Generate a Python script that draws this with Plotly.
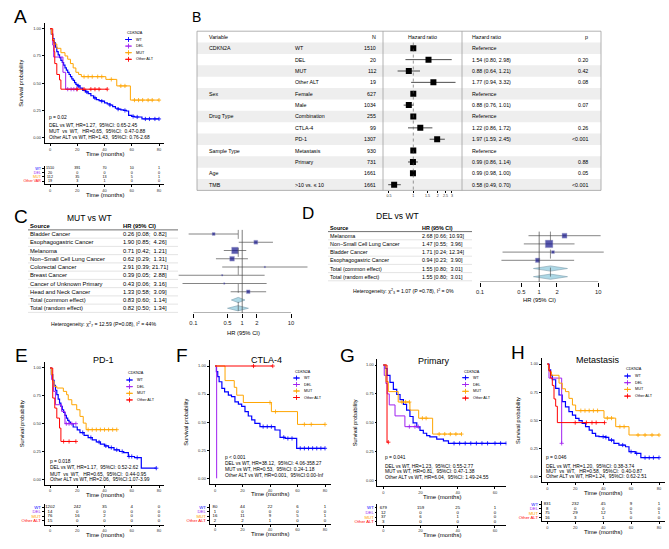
import plotly.graph_objects as go

W, H = 669, 549
FONT = "Liberation Sans, Arial, sans-serif"

GROUPS = ["WT", "DEL", "MUT", "Other ALT"]
GROUP_COLORS = ["#0000FF", "#A020F0", "#FFA500", "#FF0000"]

# ======================================================
# Kaplan-Meier data (time in months, survival probability)
# ======================================================
# A - all patients
A_WT_T = [0, 1, 2, 3, 4, 5, 6, 7, 8, 9, 10, 11, 12, 13, 14, 15, 16, 17, 18, 19, 20,
          22, 24, 26, 28, 30, 32, 34, 36, 38, 40, 42, 44, 46, 48, 50, 52, 54, 56,
          57.7, 60, 62, 67.5, 80]
A_WT_S = [1.0, 0.95, 0.91, 0.87, 0.83, 0.79, 0.76, 0.735, 0.71, 0.69, 0.665, 0.64, 0.62,
          0.60, 0.58, 0.56, 0.54, 0.525, 0.505, 0.49, 0.475, 0.455, 0.435, 0.42, 0.405,
          0.385, 0.365, 0.35, 0.34, 0.335, 0.32, 0.31, 0.30, 0.285, 0.27, 0.262, 0.255,
          0.25, 0.245, 0.205, 0.195, 0.19, 0.172, 0.172]
A_WT_CENS = [21, 27, 33, 38, 44, 50, 55, 61, 64, 70, 73, 77, 80]
A_DEL_T = [0, 1, 2, 2.7, 9.5, 11.5, 19.5]
A_DEL_S = [1.0, 0.95, 0.85, 0.74, 0.60, 0.445, 0.445]
A_DEL_CENS = [13, 15.5, 17.5, 19.5]
A_MUT_T = [0, 1, 2, 3, 5, 8, 11, 13, 15, 17, 19, 21, 23, 41, 49, 59, 80]
A_MUT_S = [1.0, 0.95, 0.90, 0.86, 0.82, 0.78, 0.75, 0.72, 0.68, 0.64, 0.60, 0.58, 0.56,
           0.535, 0.475, 0.345, 0.345]
A_MUT_CENS = [25, 28, 31, 35, 38, 45, 52, 55, 62, 65, 68, 72, 75, 80]
A_OTH_T = [0, 2, 3, 3.5, 5, 7, 8, 42]
A_OTH_S = [1.0, 0.89, 0.79, 0.68, 0.58, 0.53, 0.445, 0.445]
A_OTH_CENS = [20, 25, 30, 33, 36, 42]
A_RISK = [[1510, 391, 70, 10, 1], [20, 0, 0, 0, 0], [112, 35, 13, 5, 1], [19, 3, 1, 0, 0]]
A_STATS = ["p = 0.02",
           "DEL vs WT, HR=1.27,  95%CI: 0.65-2.45",
           "MUT  vs  WT,   HR=0.65,  95%CI:  0.47-0.88",
           "Other ALT vs WT, HR=1.43,  95%CI: 0.76-2.68"]

# E - PD-1
E_WT_T = [0, 1, 2, 3, 4, 5, 6, 7, 8, 9, 10, 11, 12, 13, 14, 15, 17, 20, 22, 25, 28, 31,
          34, 37, 40, 43, 47, 51, 54, 57.5, 62, 67, 78]
E_WT_S = [1.0, 0.94, 0.89, 0.845, 0.80, 0.76, 0.72, 0.685, 0.655, 0.625, 0.60, 0.575,
          0.55, 0.53, 0.515, 0.50, 0.47, 0.445, 0.42, 0.395, 0.375, 0.355, 0.335, 0.316,
          0.30, 0.285, 0.265, 0.25, 0.24, 0.205, 0.195, 0.10, 0.10]
E_WT_CENS = [24, 30, 36, 41, 45, 49, 53, 58, 60, 64, 78]
E_DEL_T = [0, 1.2, 2.5, 4, 8.5, 11, 19]
E_DEL_S = [1.0, 0.895, 0.79, 0.67, 0.61, 0.50, 0.50]
E_DEL_CENS = [12, 14, 16, 19]
E_MUT_T = [0, 1, 2, 3, 5, 9.8, 12.2, 13.4, 16, 19.6, 22, 24.4, 26.5, 49]
E_MUT_S = [1.0, 0.94, 0.88, 0.835, 0.82, 0.79, 0.76, 0.715, 0.67, 0.625, 0.565, 0.505,
           0.446, 0.446]
E_MUT_CENS = [28, 31, 34, 37, 40, 43, 46, 49]
E_OTH_T = [0, 2, 3.5, 5, 7, 8, 19]
E_OTH_S = [1.0, 0.73, 0.64, 0.55, 0.46, 0.34, 0.34]
E_OTH_CENS = [10, 14, 19]
E_RISK = [[1202, 242, 35, 4, 0], [14, 0, 0, 0, 0], [76, 16, 2, 0, 0], [15, 0, 0, 0, 0]]
E_STATS = ["p = 0.018",
           "DEL vs WT, HR=1.17,  95%CI: 0.52-2.62",
           "MUT  vs  WT,   HR=0.65,  95%CI:  0.44-0.95",
           "Other ALT vs WT, HR=2.06,  95%CI:1.07-3.99"]

# F - CTLA-4
F_WT_T = [0, 1, 2, 3, 5, 7, 9.7, 12, 14.5, 17, 19.4, 21.8, 24.2, 26.7, 29, 32.7, 43.6,
          47.3, 51, 59.4, 80]
F_WT_S = [1.0, 0.95, 0.905, 0.86, 0.80, 0.77, 0.74, 0.727, 0.68, 0.66, 0.64, 0.594,
          0.555, 0.52, 0.49, 0.46, 0.43, 0.365, 0.355, 0.267, 0.267]
F_WT_CENS = [35, 38, 41, 50, 53, 56, 62, 65, 68, 71, 74, 77, 80]
F_DEL_T = [0, 1.2]
F_DEL_S = [1.0, 0.0]
F_DEL_CENS = []
F_MUT_T = [0, 7.3, 14, 15.8, 20.6, 41, 60, 80]
F_MUT_S = [1.0, 0.87, 0.81, 0.74, 0.675, 0.594, 0.48, 0.48]
F_MUT_CENS = [40, 44, 65, 70, 80]
F_OTH_T = [0, 42]
F_OTH_S = [1.0, 1.0]
F_OTH_CENS = [28, 42]
F_RISK = [[80, 44, 22, 6, 1], [1, 0, 0, 0, 0], [16, 11, 9, 5, 1], [2, 2, 1, 0, 0]]
F_STATS = ["p &lt; 0.001",
           "DEL vs WT, HR=38.12,  95%CI: 4.06-358.27",
           "MUT vs WT, HR=0.53,  95%CI: 0.24-1.18",
           "Other ALT vs WT, HR=0.001,  95%CI:0.00-Inf"]

# G - Primary
G_WT_T = [0, 1, 2, 3.6, 5.4, 7.2, 9, 10.8, 12.5, 14.3, 16, 18, 19.7, 21.5, 23.3, 25,
          28.7, 32.3, 35, 66]
G_WT_S = [1.0, 0.97, 0.91, 0.85, 0.79, 0.745, 0.70, 0.66, 0.61, 0.555, 0.50, 0.465,
          0.435, 0.41, 0.39, 0.378, 0.36, 0.345, 0.323, 0.323]
G_WT_CENS = [38, 41, 44, 47, 50, 53, 56, 60, 63, 66]
G_DEL_T = [0, 0.5, 1.4, 2.1, 3.2, 6.3, 11.6, 18.8]
G_DEL_S = [1.0, 0.91, 0.84, 0.75, 0.655, 0.56, 0.467, 0.467]
G_DEL_CENS = [14, 17, 18.8]
G_MUT_T = [0, 1.4, 2.7, 8, 14.3, 19, 26.5, 42]
G_MUT_S = [1.0, 0.856, 0.77, 0.68, 0.61, 0.54, 0.403, 0.403]
G_MUT_CENS = [10, 12, 14, 21, 23, 30, 33, 36, 39, 42]
G_OTH_T = [0, 2, 2.7]
G_OTH_S = [1.0, 0.333, 0.333]
G_OTH_CENS = [2.7]
G_RISK = [[679, 159, 25, 1], [12, 0, 0, 0], [37, 6, 1, 0], [3, 0, 0, 0]]
G_STATS = ["p = 0.041",
           "DEL vs WT, HR=1.23,  95%CI: 0.55-2.77",
           "MUT vs WT, HR=0.81,  95%CI: 0.47-1.38",
           "Other ALT vs WT, HR=6.04,  95%CI: 1.49-24.55"]

# H - Metastasis
H_WT_T = [0, 1.2, 2.4, 3.6, 6, 8.4, 10.7, 13, 15.5, 18, 20.3, 22.7, 25, 27.4, 30, 32.2,
          34.6, 37, 41.8, 44, 47.7, 51.3, 56, 58.5, 63, 67, 80]
H_WT_S = [1.0, 0.947, 0.90, 0.86, 0.784, 0.725, 0.666, 0.62, 0.577, 0.547, 0.518, 0.497,
          0.473, 0.444, 0.414, 0.385, 0.36, 0.355, 0.349, 0.325, 0.296, 0.281, 0.266,
          0.222, 0.207, 0.169, 0.169]
H_WT_CENS = [40, 42, 46, 54, 60, 64, 70, 73, 76, 80]
H_DEL_T = [0, 1.2, 10.3]
H_DEL_S = [1.0, 0.875, 0.296]
H_DEL_CENS = [10.3]
H_MUT_T = [0, 0.8, 1.5, 3, 8.4, 10.7, 13, 15.5, 18, 20.3, 40.6, 49, 58.5, 80]
H_MUT_S = [1.0, 0.96, 0.93, 0.90, 0.83, 0.78, 0.755, 0.695, 0.636, 0.586, 0.52, 0.444,
           0.37, 0.37]
H_MUT_CENS = [24, 27, 30, 33, 36, 43, 46, 52, 55, 65, 70, 75, 80]
H_OTH_T = [0, 1.2, 2.4, 3.6, 4.8, 6, 7.2, 41]
H_OTH_S = [1.0, 0.94, 0.875, 0.81, 0.69, 0.625, 0.48, 0.48]
H_OTH_CENS = [20, 28, 32, 35, 41]
H_RISK = [[831, 232, 45, 9, 1], [8, 0, 0, 0, 0], [75, 29, 12, 5, 1], [16, 3, 1, 0, 0]]
H_STATS = ["p = 0.046",
           "DEL vs WT, HR=1.20,  95%CI: 0.38-3.74",
           "MUT  vs  WT,   HR=0.58,  95%CI:  0.40-0.87",
           "Other ALT vs WT, HR=1.24,  95%CI: 0.62-2.51"]

RISK_T80 = [0, 20, 40, 60, 80]
RISK_T60 = [0, 20, 40, 60]

# ======================================================
# B - multivariable Cox model
# ======================================================
B_VAR = ["CDKN2A", "", "", "", "Sex", "", "Drug Type", "", "", "Sample Type", "", "Age", "TMB"]
B_LEVEL = ["WT", "DEL", "MUT", "Other ALT", "Female", "Male", "Combination", "CTLA-4",
           "PD-1", "Metastasis", "Primary", "", ">10 vs. \u2264 10"]
B_N = [1510, 20, 112, 19, 627, 1034, 255, 99, 1307, 930, 731, 1661, 1661]
B_HR = [1, 1.54, 0.88, 1.77, 1, 0.88, 1, 1.22, 1.97, 1, 0.99, 0.99, 0.58]
B_LO = [None, 0.80, 0.64, 0.94, None, 0.76, None, 0.86, 1.59, None, 0.86, 0.98, 0.49]
B_HI = [None, 2.98, 1.21, 3.32, None, 1.01, None, 1.72, 2.45, None, 1.14, 1.00, 0.70]
B_P = ["", "0.20", "0.42", "0.08", "", "0.07", "", "0.26", "&lt;0.001", "", "0.88", "0.05", "&lt;0.001"]
B_TICKS = [0.5, 1, 1.5, 2, 2.5, 3]

# ======================================================
# C / D - meta-analysis by cancer type
# ======================================================
C_STUDY = ["Bladder Cancer", "Esophagogastric Cancer", "Melanoma",
           "Non\u2212Small Cell Lung Cancer", "Colorectal Cancer", "Breast Cancer",
           "Cancer of Unknown Primary", "Head and Neck Cancer"]
C_HR = [0.26, 1.90, 0.71, 0.62, 2.91, 0.39, 0.43, 1.33]
C_LO = [0.08, 0.85, 0.42, 0.29, 0.39, 0.05, 0.06, 0.58]
C_HI = [0.82, 4.26, 1.21, 1.31, 21.71, 2.88, 3.16, 3.09]
C_WEIGHT = [8, 14, 40, 20, 2, 2, 2, 12]
C_POOL = ["Total (common effect)", "Total (random effect)"]
C_POOL_HR = [0.83, 0.82]
C_POOL_LO = [0.60, 0.50]
C_POOL_HI = [1.14, 1.34]
C_HET = "Heterogeneity: \u03c7<sup>2</sup><sub>7</sub> = 12.59 (P=0.08), I<sup>2</sup> = 44%"

D_STUDY = ["Melanoma", "Non\u2212Small Cell Lung Cancer", "Bladder Cancer", "Esophagogastric Cancer"]
D_HR = [2.68, 1.47, 1.71, 0.94]
D_LO = [0.66, 0.55, 0.24, 0.23]
D_HI = [10.93, 3.96, 12.34, 3.90]
D_WEIGHT = [22, 52, 8, 18]
D_POOL = ["Total (common effect)", "Total (random effect)"]
D_POOL_HR = [1.55, 1.55]
D_POOL_LO = [0.80, 0.80]
D_POOL_HI = [3.01, 3.01]
D_HET = "Heterogeneity: \u03c7<sup>2</sup><sub>3</sub> = 1.07 (P =0.78), I<sup>2</sup> = 0%"

META_TICKS = [0.1, 0.5, 1, 2, 10]

# ======================================================
# layout helpers (pixel positions in the 669x549 page)
# ======================================================
def px(x):
    return x / W


def py(y):
    return 1 - y / H


def xa(n):
    return "xaxis" if n == 1 else "xaxis%d" % n


def ya(n):
    return "yaxis" if n == 1 else "yaxis%d" % n


def xr(n):
    return "x" if n == 1 else "x%d" % n


def yr(n):
    return "y" if n == 1 else "y%d" % n


def surv_at(ts, ss, t):
    v = ss[0]
    for ti, si in zip(ts, ss):
        if ti <= t:
            v = si
    return v


AX = dict(showgrid=False, zeroline=False, showline=True, linecolor="black", linewidth=0.6,
          ticks="outside", ticklen=2, tickwidth=0.6, tickcolor="black",
          tickfont=dict(size=4, color="#333", family=FONT))

fig = go.Figure()
layout = {}
ann = []
shp = []


def note(text, x, y, size, xanchor="left", color="black", angle=0, xref="paper", yref="paper"):
    ann.append(dict(text=text, x=px(x) if xref == "paper" else x,
                    y=py(y) if yref == "paper" else y, xref=xref, yref=yref,
                    xanchor=xanchor, yanchor="middle", showarrow=False, textangle=angle,
                    font=dict(size=size, color=color, family=FONT)))


# ------------------------------------------------------
# KM panels
# ------------------------------------------------------
KM = {
    "A": dict(curves=[(A_WT_T, A_WT_S, A_WT_CENS), (A_DEL_T, A_DEL_S, A_DEL_CENS),
                      (A_MUT_T, A_MUT_S, A_MUT_CENS), (A_OTH_T, A_OTH_S, A_OTH_CENS)],
              risk=A_RISK, risk_t=RISK_T80, stats=A_STATS, title=None,
              labels=["WT", "DEL", "MUT", "Other VAR"]),
    "E": dict(curves=[(E_WT_T, E_WT_S, E_WT_CENS), (E_DEL_T, E_DEL_S, E_DEL_CENS),
                      (E_MUT_T, E_MUT_S, E_MUT_CENS), (E_OTH_T, E_OTH_S, E_OTH_CENS)],
              risk=E_RISK, risk_t=RISK_T80, stats=E_STATS, title="PD-1", labels=GROUPS),
    "F": dict(curves=[(F_WT_T, F_WT_S, F_WT_CENS), (F_DEL_T, F_DEL_S, F_DEL_CENS),
                      (F_MUT_T, F_MUT_S, F_MUT_CENS), (F_OTH_T, F_OTH_S, F_OTH_CENS)],
              risk=F_RISK, risk_t=RISK_T80, stats=F_STATS, title="CTLA-4", labels=GROUPS),
    "G": dict(curves=[(G_WT_T, G_WT_S, G_WT_CENS), (G_DEL_T, G_DEL_S, G_DEL_CENS),
                      (G_MUT_T, G_MUT_S, G_MUT_CENS), (G_OTH_T, G_OTH_S, G_OTH_CENS)],
              risk=G_RISK, risk_t=RISK_T60, stats=G_STATS, title="Primary", labels=GROUPS),
    "H": dict(curves=[(H_WT_T, H_WT_S, H_WT_CENS), (H_DEL_T, H_DEL_S, H_DEL_CENS),
                      (H_MUT_T, H_MUT_S, H_MUT_CENS), (H_OTH_T, H_OTH_S, H_OTH_CENS)],
              risk=H_RISK, risk_t=RISK_T80, stats=H_STATS, title="Metastasis", labels=GROUPS),
}

# pixel placement of each KM panel
KM_POS = {
    "A": dict(n=1, rn=6, x0=50, xT=159, T=80, y1=28.7, y0=137.7, xr=(-4, 84),
              r0=168.5, rs=4.2, rax=184, rf=3.7, stat=(47, [117, 125.5, 131.2, 137]),
              leg=(125, 32.7, 39.5, 6.6), title=None),
    "E": dict(n=2, rn=7, x0=50, xT=159, T=80, y1=368, y0=479.3, xr=(-4, 84),
              r0=507.3, rs=4.45, rax=524.5, rf=4.3, stat=(48, [461.7, 468, 474, 479.3]),
              leg=(126, 372.7, 380, 6.65), title=(104, 360)),
    "F": dict(n=3, rn=8, x0=215, xT=325, T=80, y1=366, y0=478.3, xr=(-4, 84),
              r0=507.3, rs=4.45, rax=523.8, rf=4.3, stat=(223, [457, 463.3, 469.3, 475.7]),
              leg=(293, 371.7, 378, 6.5), title=(266, 360)),
    "G": dict(n=4, rn=9, x0=383.3, xT=495, T=60, y1=365, y0=480.7, xr=(-3.15, 66.15),
              r0=507.7, rs=4.75, rax=524.8, rf=4.3, stat=(383.3, [457.7, 466, 471.7, 477.3]),
              leg=(462, 371.7, 377.7, 6.8), title=(433, 361)),
    "H": dict(n=5, rn=10, x0=547.3, xT=659, T=80, y1=364, y0=476.7, xr=(-4, 84),
              r0=504, rs=4.55, rax=521, rf=4.3, stat=(544, [457.3, 466, 471, 476]),
              leg=(624, 369.3, 376, 6.7), title=(598, 360)),
}

# canvas axis (pixel coordinates) used only for legend keys
CANVAS = 14
layout[xa(CANVAS)] = dict(domain=[0, 1], range=[0, W], visible=False, fixedrange=True)
layout[ya(CANVAS)] = dict(domain=[0, 1], range=[H, 0], visible=False, fixedrange=True)

for key, P in KM_POS.items():
    D = KM[key]
    n, rn = P["n"], P["rn"]
    ppm = (P["xT"] - P["x0"]) / P["T"]
    left = P["x0"] + P["xr"][0] * ppm
    right = P["x0"] + P["xr"][1] * ppm
    ppu = P["y0"] - P["y1"]
    top = P["y1"] - 0.05 * ppu
    bot = P["y0"] + 0.05 * ppu
    xdom = [px(left), px(right)]

    layout[xa(n)] = dict(AX, domain=xdom, range=list(P["xr"]), tickvals=D["risk_t"],
                         anchor=yr(n))
    layout[ya(n)] = dict(AX, domain=[py(bot), py(top)], range=[-0.05, 1.05],
                         tickvals=[0, 0.25, 0.5, 0.75, 1],
                         ticktext=["0.00", "0.25", "0.50", "0.75", "1.00"], anchor=xr(n))

    for gi, (ts, ss, cens) in enumerate(D["curves"]):
        col = GROUP_COLORS[gi]
        fig.add_trace(go.Scatter(x=ts, y=ss, mode="lines", xaxis=xr(n), yaxis=yr(n),
                                 line=dict(shape="hv", color=col, width=1.2 if gi == 0 else 1.0),
                                 hoverinfo="skip"))
        if cens:
            fig.add_trace(go.Scatter(x=cens, y=[surv_at(ts, ss, c) for c in cens],
                                     mode="markers", xaxis=xr(n), yaxis=yr(n),
                                     marker=dict(symbol="cross-thin", size=3,
                                                 line=dict(color=col, width=0.8)),
                                     hoverinfo="skip"))

    # stats text
    sx, sys_ = P["stat"]
    for txt, yy in zip(D["stats"], sys_):
        note(txt, sx, yy, 4.9)

    # legend
    lx, lty, lfy, lst = P["leg"]
    note("CDKN2A", lx, lty, 3.8)
    for gi, g in enumerate(GROUPS):
        yy = lfy + gi * lst
        col = GROUP_COLORS[gi]
        fig.add_trace(go.Scatter(x=[lx, lx + 7], y=[yy, yy], mode="lines",
                                 xaxis=xr(CANVAS), yaxis=yr(CANVAS),
                                 line=dict(color=col, width=0.9), hoverinfo="skip"))
        fig.add_trace(go.Scatter(x=[lx + 3.5], y=[yy], mode="markers",
                                 xaxis=xr(CANVAS), yaxis=yr(CANVAS),
                                 marker=dict(symbol="cross-thin", size=3.5,
                                             line=dict(color=col, width=0.9)),
                                 hoverinfo="skip"))
        note(g, lx + 9, yy, 3.8)

    # axis titles
    note("Survival probability", left - 23, (top + bot) / 2, 5.6, xanchor="center", angle=-90)
    note("Time (months)", (left + right) / 2, bot + 10.5, 6, xanchor="center")
    if P["title"]:
        note(D["title"], P["title"][0], P["title"][1], 9, xanchor="center")

    # number at risk table
    r0, rs, rax, rf = P["r0"], P["rs"], P["rax"], P["rf"]
    idx_bot = (rax - r0) / rs
    layout[xa(rn)] = dict(AX, domain=xdom, range=list(P["xr"]), tickvals=D["risk_t"],
                          anchor=yr(rn))
    layout[ya(rn)] = dict(AX, domain=[py(rax), py(r0 - 0.7 * rs)], range=[idx_bot, -0.7],
                          tickvals=[0, 1, 2, 3],
                          ticktext=["<span style='color:%s'>%s</span>" % (c, l)
                                    for c, l in zip(GROUP_COLORS, D["labels"])],
                          tickfont=dict(size=rf, family=FONT), anchor=xr(rn))
    for gi, row in enumerate(D["risk"]):
        fig.add_trace(go.Scatter(x=D["risk_t"], y=[gi] * len(row), text=[str(v) for v in row],
                                 mode="text", xaxis=xr(rn), yaxis=yr(rn),
                                 textfont=dict(size=rf, color="black", family=FONT),
                                 hoverinfo="skip"))
    note("Time (months)", (left + right) / 2, rax + 10.5, 6, xanchor="center")

# ------------------------------------------------------
# B - forest table
# ------------------------------------------------------
NB = 11
B_TOP, B_BOT = 31.2, 190.4
B_LEFT, B_MID1, B_MID2, B_RIGHT = 197, 383, 462, 601
layout[ya(NB)] = dict(domain=[py(B_BOT), py(B_TOP)], range=[13.5, -0.5], visible=False,
                      anchor=xr(NB))
layout[xa(NB)] = dict(AX, domain=[px(B_MID1), px(B_MID2)], type="log", range=[-0.374, 0.601],
                      tickvals=B_TICKS, ticktext=[("%g" % v) for v in B_TICKS],
                      showline=False, ticklen=1.5, tickfont=dict(size=3.6, color="#333", family=FONT),
                      anchor=yr(NB))

for i in range(1, 14, 2):
    shp.append(dict(type="rect", xref="paper", yref=yr(NB), x0=px(B_LEFT), x1=px(B_RIGHT),
                    y0=i - 0.5, y1=i + 0.5, fillcolor="#EEEEEE", line=dict(width=0), layer="below"))
shp.append(dict(type="rect", xref="paper", yref="paper", x0=px(B_LEFT), x1=px(B_RIGHT),
                y0=py(B_BOT), y1=py(B_TOP), line=dict(color="#A0A0A0", width=0.8)))
for xv in (B_MID1, B_MID2):
    shp.append(dict(type="line", xref="paper", yref="paper", x0=px(xv), x1=px(xv),
                    y0=py(B_BOT), y1=py(B_TOP), line=dict(color="#A0A0A0", width=0.8)))
shp.append(dict(type="line", xref=xr(NB), yref=yr(NB), x0=1, x1=1, y0=0.5, y1=13.5,
                line=dict(color="#555", width=0.6, dash="dot")))

BF = 5.3
note("Variable", 207, 0, BF, yref=yr(NB))
note("N", 378, 0, BF, xanchor="right", yref=yr(NB))
note("Hazard ratio", 422.5, 0, BF, xanchor="center", yref=yr(NB))
note("Hazard ratio", 470, 0, BF, yref=yr(NB))
note("p", 590, 0, BF, xanchor="right", yref=yr(NB))
for i in range(13):
    r = i + 1
    if B_VAR[i]:
        note(B_VAR[i], 207, r, BF, yref=yr(NB))
    if B_LEVEL[i]:
        note(B_LEVEL[i], 293, r, BF, yref=yr(NB))
    note(str(B_N[i]), 378, r, BF, xanchor="right", yref=yr(NB))
    if B_LO[i] is None:
        hr_txt = "Reference"
    else:
        hr_txt = "%.2f (%.2f, %.2f)" % (B_HR[i], B_LO[i], B_HI[i])
    note(hr_txt, 470, r, BF, yref=yr(NB))
    if B_P[i]:
        note(B_P[i], 590, r, BF, xanchor="right", yref=yr(NB))

fig.add_trace(go.Scatter(
    x=B_HR, y=list(range(1, 14)), mode="markers", xaxis=xr(NB), yaxis=yr(NB),
    marker=dict(symbol="square", size=6, color="black"),
    error_x=dict(type="data", symmetric=False,
                 array=[0 if h is None else h - m for h, m in zip(B_HI, B_HR)],
                 arrayminus=[0 if l is None else m - l for l, m in zip(B_LO, B_HR)],
                 thickness=0.7, width=0, color="black"),
    hoverinfo="skip"))

# ------------------------------------------------------
# C / D - meta forest plots
# ------------------------------------------------------
META = [
    dict(n=12, study=C_STUDY, hr=C_HR, lo=C_LO, hi=C_HI, w=C_WEIGHT, pool=C_POOL,
         phr=C_POOL_HR, plo=C_POOL_LO, phi=C_POOL_HI, het=C_HET, title="MUT vs WT",
         r0=234, rs=8.25, top=222, axis=313, xdom=(175, 312), lrange=(-1.376, 1.429),
         col1=28, col2=121, tend=178, font=5.8, title_pos=(89, 218), het_pos=(103.5, 324),
         hr_pos=(243, 333)),
    dict(n=13, study=D_STUDY, hr=D_HR, lo=D_LO, hi=D_HI, w=D_WEIGHT, pool=D_POOL,
         phr=D_POOL_HR, plo=D_POOL_LO, phi=D_POOL_HI, het=D_HET, title="DEL vs WT",
         r0=235.7, rs=8.2, top=222, axis=282, xdom=(474, 612), lrange=(-1.102, 1.231),
         col1=328, col2=419.5, tend=472, font=5.4, title_pos=(397.5, 216), het_pos=(403.5, 291),
         hr_pos=(539.3, 300)),
]

for M in META:
    n = M["n"]
    nrow = len(M["study"]) + len(M["pool"])
    i_top = (M["top"] - M["r0"]) / M["rs"]
    i_axis = (M["axis"] - M["r0"]) / M["rs"]
    layout[ya(n)] = dict(domain=[py(M["axis"]), py(M["top"])], range=[i_axis, i_top],
                         visible=False, anchor=xr(n))
    layout[xa(n)] = dict(AX, domain=[px(M["xdom"][0]), px(M["xdom"][1])], type="log",
                         range=list(M["lrange"]), tickvals=META_TICKS,
                         ticktext=[("%g" % v) for v in META_TICKS], showline=False,
                         ticklen=4, tickfont=dict(size=5.8, color="#222", family=FONT),
                         anchor=yr(n))
    # axis line only between first and last tick
    shp.append(dict(type="line", xref=xr(n), yref=yr(n), x0=META_TICKS[0], x1=META_TICKS[-1],
                    y0=i_axis, y1=i_axis, line=dict(color="black", width=0.6)))
    # reference and pooled lines
    shp.append(dict(type="line", xref=xr(n), yref=yr(n), x0=1, x1=1, y0=-0.5, y1=i_axis,
                    line=dict(color="#444", width=0.7)))
    shp.append(dict(type="line", xref=xr(n), yref=yr(n), x0=M["phr"][0], x1=M["phr"][0],
                    y0=-0.5, y1=nrow - 0.5, line=dict(color="#444", width=0.6, dash="dash")))
    # table rules
    shp.append(dict(type="line", xref="paper", yref=yr(n), x0=px(M["col1"]), x1=px(M["tend"]),
                    y0=-0.5, y1=-0.5, line=dict(color="#333", width=0.7)))
    for i in range(nrow):
        shp.append(dict(type="line", xref="paper", yref=yr(n), x0=px(M["col1"]),
                        x1=px(M["tend"]), y0=i + 0.5, y1=i + 0.5,
                        line=dict(color="#C8C8C8", width=0.5)))

    f = M["font"]
    note("<b>Source</b>", M["col1"], -1, f, yref=yr(n))
    note("<b>HR (95% CI)</b>", M["col2"], -1, f, yref=yr(n))
    names = M["study"] + M["pool"]
    hrs = M["hr"] + M["phr"]
    los = M["lo"] + M["plo"]
    his = M["hi"] + M["phi"]
    for i in range(nrow):
        note(names[i], M["col1"], i, f, yref=yr(n))
        note("%.2f [%.2f; %5.2f]" % (hrs[i], los[i], his[i]), M["col2"], i, f, yref=yr(n))

    ns = len(M["study"])
    fig.add_trace(go.Scatter(
        x=M["hr"], y=list(range(ns)), mode="markers", xaxis=xr(n), yaxis=yr(n),
        marker=dict(symbol="square", size=[1.05 * (w ** 0.5) for w in M["w"]],
                    color="#14148C", line=dict(color="#9090C0", width=0.4)),
        error_x=dict(type="data", symmetric=False,
                     array=[h - m for h, m in zip(M["hi"], M["hr"])],
                     arrayminus=[m - l for l, m in zip(M["lo"], M["hr"])],
                     thickness=0.8, width=0, color="#666"),
        hoverinfo="skip"))
    for k in range(len(M["pool"])):
        yy = ns + k
        fig.add_trace(go.Scatter(
            x=[M["plo"][k], M["phr"][k], M["phi"][k], M["phr"][k], M["plo"][k]],
            y=[yy, yy - 0.32, yy, yy + 0.32, yy], mode="lines", fill="toself",
            fillcolor="#ADD8E6", line=dict(color="#7F9FAF", width=0.6),
            xaxis=xr(n), yaxis=yr(n), hoverinfo="skip"))

    note(M["title"], M["title_pos"][0], M["title_pos"][1], 8.5, xanchor="center")
    note(M["het"], M["het_pos"][0], M["het_pos"][1], 5.2, xanchor="center")
    note("HR (95% CI)", M["hr_pos"][0], M["hr_pos"][1], 5.8, xanchor="center")

# ------------------------------------------------------
# panel letters
# ------------------------------------------------------
for lab, x, y, s in [("A", 20.5, 16.7, 19), ("B", 196.7, 16.7, 14), ("C", 21, 216, 19),
                     ("D", 307.5, 213, 17), ("E", 21.7, 355, 19), ("F", 182, 355, 19),
                     ("G", 347.5, 355, 19), ("H", 518, 352.5, 19)]:
    note(lab, x, y, s, xanchor="center")

fig.update_layout(
    width=W, height=H, margin=dict(l=0, r=0, t=0, b=0),
    paper_bgcolor="white", plot_bgcolor="rgba(0,0,0,0)", showlegend=False,
    font=dict(family=FONT, color="black"), annotations=ann, shapes=shp, **layout)

# the page body has a default 8px margin; drop it so the figure sits at the window's corner
fig.write_html("out.html", config={"displayModeBar": False},
               post_script="document.body.style.margin='0px';")
